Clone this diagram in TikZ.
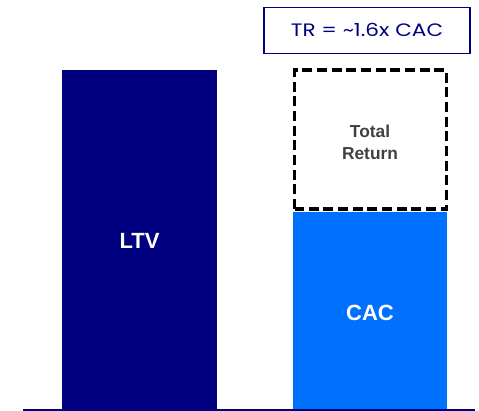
\documentclass[tikz,border=0pt]{standalone}
\usepackage{fontspec}
\setmainfont{Liberation Sans}
\newfontfamily\ratiofont[FakeStretch=1.2]{Poppins}
\usetikzlibrary{positioning}
\definecolor{ltvnavy}{RGB}{0,0,128}
\definecolor{cacblue}{RGB}{0,112,255}
\definecolor{trgray}{RGB}{64,64,64}
\tikzstyle{barlabel}=[text=white,font=\bfseries\fontsize{16.5}{19}\selectfont]
\tikzstyle{returnbox}=[draw=black,line width=2.3pt,dash pattern=on 7.5pt off 3.5pt]
\newcommand{\drawbar}[5]{% Syntax: {colour} {left} {right} {top} {bottom}
    \fill[#1] (#2,#4) rectangle (#3,#5);
}
\begin{document}
\begin{tikzpicture}[x=0.75pt,y=-0.75pt]
	\useasboundingbox (0,0) rectangle (479,411);
	% bars
	\drawbar{ltvnavy}{62}{217}{70}{409.5}
	\drawbar{cacblue}{293}{447}{211.5}{409.5}
	\draw[returnbox] (294.7,209) rectangle (446.3,70);
	% axis line
	\coordinate (axisL) at (23,410);
	\coordinate (axisR) at (475,410);
	\draw[ltvnavy,line width=1.2pt] (axisL) -- (axisR);
	% labels
	\node[barlabel] (ltv) at (139.5,241) {LTV};
	\node[barlabel] (cac) at (370,313) {CAC};
	\node[text=trgray,font=\bfseries\fontsize{13}{16.5}\selectfont,align=center] (tr) at (370,142) {Total\\Return};
	\node[draw=ltvnavy,line width=1pt,text=ltvnavy,font=\ratiofont\fontsize{13.5}{16}\selectfont,
	  minimum width=154.5pt,minimum height=34.5pt] (ratio) at (367,30.3) {TR = \textasciitilde1.6x CAC\hspace{7.5pt}};
\end{tikzpicture}
\end{document}
